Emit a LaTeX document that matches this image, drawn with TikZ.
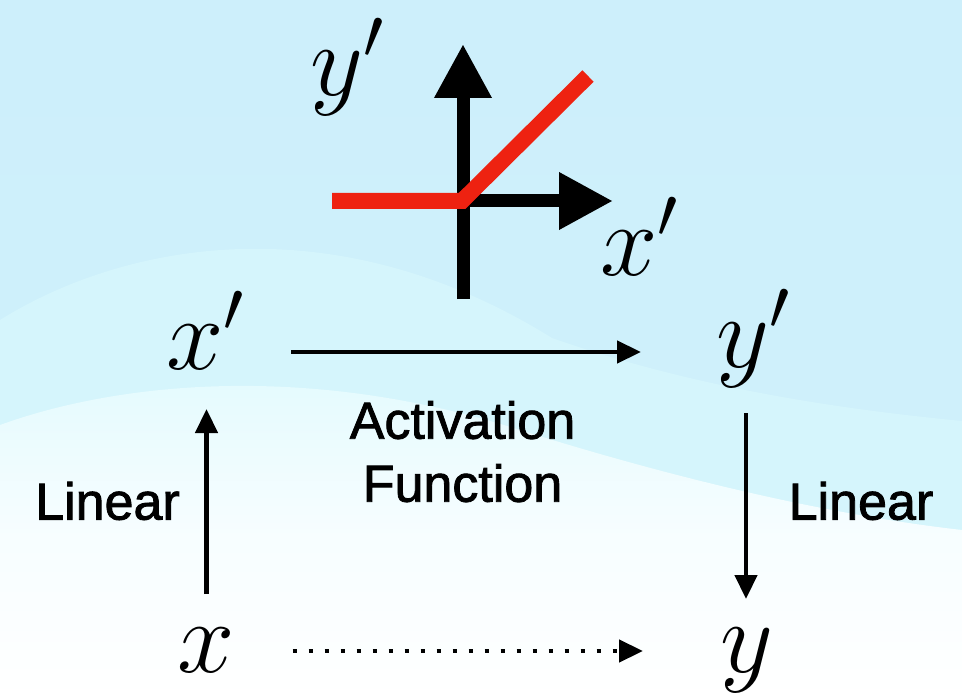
\RequirePackage{fix-cm}
\documentclass[tikz,border=0pt]{standalone}
\usepackage{fontspec}
\setsansfont{Liberation Sans}[BoldFont=Liberation Sans, BoldFeatures={FakeBold=1.6}]
\usetikzlibrary{arrows.meta}
\definecolor{skytop}{RGB}{205,239,251}
\definecolor{skylow}{RGB}{208,241,251}
\definecolor{hillcyan}{RGB}{213,245,252}
\definecolor{hillwhite}{RGB}{226,250,254}
\definecolor{relured}{RGB}{238,34,17}

\begin{document}
\begin{tikzpicture}[
  x=1pt, y=-1pt,
  mathlbl/.style={inner sep=0pt, anchor=base west, font=\fontsize{103}{110}\selectfont},
  txt/.style={inner sep=0pt, align=center, font=\sffamily\bfseries\fontsize{52}{63}\selectfont},
  arr/.style={-{Triangle[length=24pt, width=22pt]}, line width=4.5pt},
  dots/.style={arr, dash pattern=on 4.5pt off 11.5pt},
  axis/.style={-{Triangle[length=54pt, width=54pt]}, line width=13pt},
  relu/.style={draw=relured, line width=16pt}
]
\useasboundingbox (0,0) rectangle (962,698);
\shade[top color=skytop, bottom color=skylow] (0,0) rectangle (962,698);
\fill[hillcyan] (0,320) .. controls (120,245) and (330,200) .. (552,338)
  .. controls (700,390) and (850,410) .. (962,421) -- (962,698) -- (0,698) -- cycle;
\shade[top color=hillwhite, bottom color=white, middle color=white!70!hillwhite]
  (0,425) .. controls (110,385) and (300,360) .. (520,430)
  .. controls (680,480) and (830,515) .. (962,530) -- (962,698) -- (0,698) -- cycle;

\draw[axis] (463,299) -- (463,44);
\draw[axis] (456.5,201) -- (613,201);
\draw[relu] (332,201) -- (462,201) -- (588,76);
\node[mathlbl] (ylab) at (310,96) {$y'$};
\node[mathlbl] (xlab) at (600,275) {$x'$};

\node[mathlbl] (xp) at (166,369) {$x'$};
\node[mathlbl] (yp) at (716,367) {$y'$};
\node[mathlbl] (xin) at (177.7,672) {$x$};
\node[mathlbl] (yout) at (720,672) {$y$};
\node[txt] (act) at (462.5,451.6) {Activation\\Function};
\node[txt, anchor=base] (linl) at (107.5,519.6) {Linear};
\node[txt, anchor=base] (linr) at (861,519.6) {Linear};

\draw[arr] ([shift={(125,-17)}]xp.base west) -- ([shift={(-75,-15)}]yp.base west);
\draw[arr] ([shift={(28.8,-78)}]xin.base west) -- ([shift={(40.5,40)}]xp.base west);
\draw[arr] ([shift={(30,46)}]yp.base west) -- ([shift={(26,-73)}]yout.base west);
\draw[dots] ([shift={(115,-21)}]xin.base west) -- ([shift={(-77,-21)}]yout.base west);
\end{tikzpicture}
\end{document}
